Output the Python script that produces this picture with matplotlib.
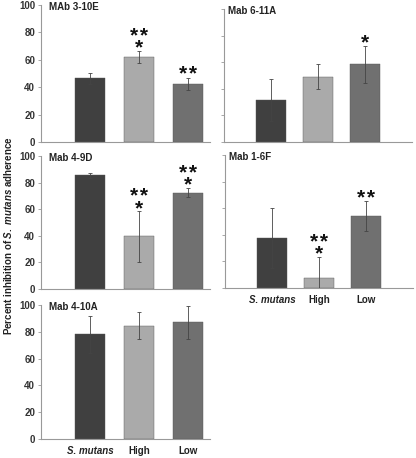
import numpy as np
import matplotlib.pyplot as plt

plt.rcParams['font.family'] = ['Liberation Sans', 'DejaVu Sans']
plt.rcParams['font.weight'] = 'bold'
plt.rcParams['mathtext.fontset'] = 'custom'
plt.rcParams['mathtext.it'] = 'Liberation Sans:italic:bold'
plt.rcParams['mathtext.rm'] = 'Liberation Sans:bold'

# data
GROUPS = ["S. mutans", "High", "Low"]
PANELS = ["MAb 3-10E", "Mab 6-11A", "Mab 4-9D", "Mab 1-6F", "Mab 4-10A"]
MEANS = [
    [46.5, 62.0, 42.5],
    [31.5, 49.0, 58.5],
    [85.5, 39.5, 72.5],
    [37.5, 7.5, 54.0],
    [78.0, 84.5, 87.0],
]
ERRORS = [
    [4.0, 4.5, 4.5],
    [15.5, 9.5, 14.0],
    [2.0, 19.0, 3.5],
    [22.5, 16.0, 11.5],
    [14.0, 10.0, 12.0],
]
# significance marks above each bar, top row first
STARS = [
    [[], ["**", "*"], ["**"]],
    [[], [], ["*"]],
    [[], ["**", "*"], ["**", "*"]],
    [[], ["**", "*"], ["**"]],
    [[], [], []],
]
BAR_COLORS = ["#404040", "#aaaaaa", "#707070"]

W, H = 416, 458
# axes boxes in pixels: x0, x1, ytop, ybottom, is_left, show_xlabels
BOXES = [
    (41, 210, 5, 142, True, False),
    (224, 412, 9, 142, False, False),
    (41, 210, 156, 289, True, False),
    (225, 413, 155, 288, False, True),
    (41, 210, 305, 439, True, True),
]

fig = plt.figure(figsize=(W / 100, H / 100), dpi=100)

for i, (x0, x1, yt, yb, is_left, show_x) in enumerate(BOXES):
    ax = fig.add_axes([x0 / W, 1 - yb / H, (x1 - x0) / W, (yb - yt) / H])
    pos = np.arange(1, 4)
    width = 0.6 if is_left else 0.62
    ax.bar(pos, MEANS[i], width=width, color=BAR_COLORS, edgecolor="#555555", linewidth=0.3, zorder=2)
    ax.errorbar(pos, MEANS[i], yerr=ERRORS[i], fmt="none", ecolor="#444444",
                elinewidth=0.6, capsize=1.6, capthick=0.6, zorder=3)
    ax.set_ylim(0, 100)
    ax.set_xlim(0, 3.45 if is_left else 4.0)
    ax.set_yticks(np.arange(0, 101, 20))
    for s in ["top", "right"]:
        ax.spines[s].set_visible(False)
    for s in ["left", "bottom"]:
        ax.spines[s].set_color("#999999")
        ax.spines[s].set_linewidth(0.8)
    ax.tick_params(axis="y", length=2.2, width=0.6, color="#999999", labelsize=7,
                   labelcolor="#333333", pad=2, labelleft=is_left)
    ax.tick_params(axis="x", length=0, labelsize=7, labelcolor="#222222", pad=5)
    if show_x:
        ax.set_xticks(pos)
        ax.set_xticklabels(GROUPS, fontweight="bold")
        ax.get_xticklabels()[0].set_fontstyle("italic")
    else:
        ax.set_xticks([])

    ax.annotate(PANELS[i], xy=(0, 1), xycoords="axes fraction",
                xytext=(6 if is_left else 3, -1.5), textcoords="offset points",
                ha="left", va="center", fontsize=7, fontweight="bold", color="#222222")

    for j, rows in enumerate(STARS[i]):
        if not rows:
            continue
        top = MEANS[i][j] + ERRORS[i][j]
        label = "\n".join(r.replace("**", "*\u200a*") for r in rows)
        ax.annotate(label, xy=(pos[j], top), xytext=(0, -2.0), textcoords="offset points",
                    ha="center", va="baseline", multialignment="center", linespacing=0.5,
                    fontsize=15, fontweight="bold", color="#111111")

fig.text(8.5 / W, 1 - 236 / H, r"Percent inhibition of $\it{S.\ mutans}$ adherence",
         rotation=90, ha="center", va="center", fontsize=7, fontweight="bold", color="#222222")

fig.savefig("out.png", dpi=100)
